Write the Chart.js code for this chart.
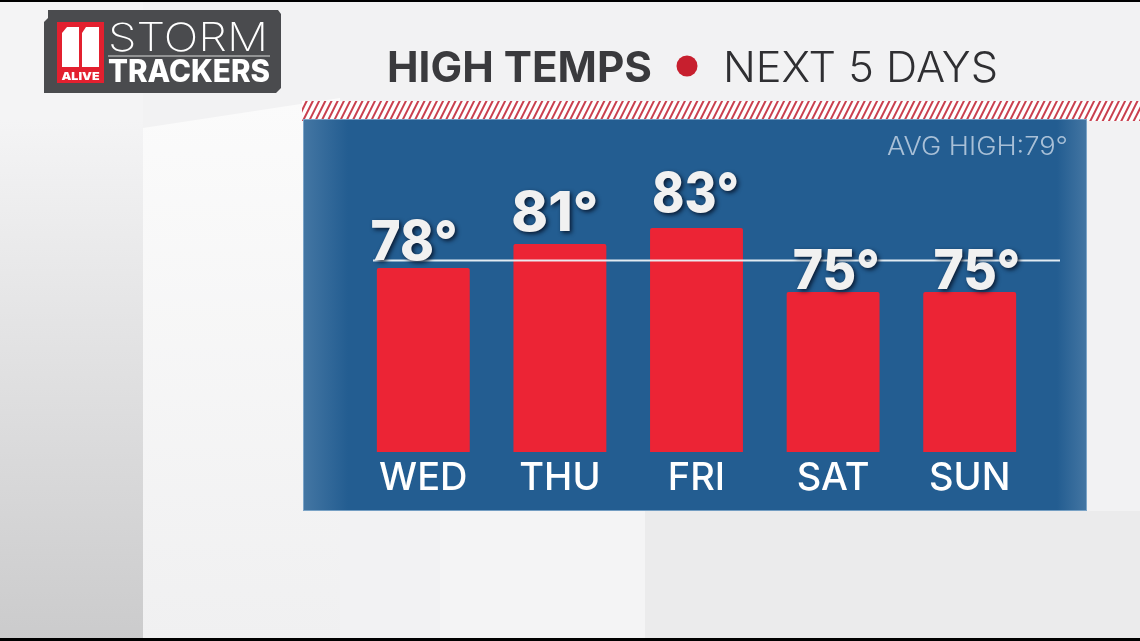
<!DOCTYPE html>
<html>
<head>
<meta charset="utf-8">
<script src="https://cdn.jsdelivr.net/npm/chart.js@4/dist/chart.umd.min.js"></script>
<style>
html,body{margin:0;padding:0;background:#f2f2f3;overflow:hidden;}
canvas{display:block;}
</style>
</head>
<body>
<canvas id="c" width="1140" height="641"></canvas>
<script>
// ---- data ----
const days = ['WED', 'THU', 'FRI', 'SAT', 'SUN'];
const highs = [78, 81, 83, 75, 75];
const avgHigh = 79;
const titleBold = 'HIGH TEMPS';
const titleLight = 'NEXT 5 DAYS';
const avgLabel = 'AVG HIGH:';
const yMin = 55;
const yMax = 96;

const FONT = 'Inter, "Open Sans", "DejaVu Sans", sans-serif';

function fitText(ctx, text, x, y, w, font, align) {
  ctx.save();
  ctx.font = font;
  ctx.textBaseline = 'alphabetic';
  const m = ctx.measureText(text).width;
  const s = w / m;
  let x0 = x;
  if (align === 'center') x0 = x - w / 2;
  else if (align === 'right') x0 = x - w;
  ctx.translate(x0, y);
  ctx.scale(s, 1);
  ctx.textAlign = 'left';
  ctx.fillText(text, 0, 0);
  ctx.restore();
}

const backgroundPlugin = {
  id: 'bg',
  beforeDraw(chart) {
    const ctx = chart.ctx;
    ctx.save();
    ctx.fillStyle = '#f2f2f3';
    ctx.fillRect(0, 0, 1140, 641);
    let g = ctx.createLinearGradient(0, 120, 0, 641);
    g.addColorStop(0, '#f4f4f5');
    g.addColorStop(1, '#cbcbcc');
    ctx.fillStyle = g;
    ctx.fillRect(0, 0, 143, 641);
    g = ctx.createLinearGradient(0, 100, 0, 641);
    g.addColorStop(0, '#fbfbfb');
    g.addColorStop(1, '#f0f0f1');
    ctx.fillStyle = g;
    ctx.beginPath();
    ctx.moveTo(143, 128); ctx.lineTo(340, 98); ctx.lineTo(340, 641); ctx.lineTo(143, 641);
    ctx.closePath(); ctx.fill();
    ctx.fillStyle = '#f4f4f5';
    ctx.fillRect(440, 511, 205, 130);
    ctx.fillStyle = '#ebebec';
    ctx.fillRect(645, 511, 495, 130);
    ctx.fillStyle = '#000';
    ctx.fillRect(0, 0, 1140, 2);
    ctx.fillRect(0, 638, 1140, 3);

    // ---- logo ----
    ctx.fillStyle = '#4a4b4e';
    ctx.beginPath();
    ctx.moveTo(48, 10); ctx.lineTo(278, 10); ctx.lineTo(281, 14); ctx.lineTo(281, 88);
    ctx.lineTo(276, 93); ctx.lineTo(44, 93); ctx.lineTo(44, 22); ctx.lineTo(48, 18);
    ctx.closePath(); ctx.fill();
    ctx.fillStyle = '#e3202f';
    ctx.fillRect(57, 22, 47, 61);
    ctx.fillStyle = '#ffffff';
    ctx.beginPath();
    ctx.moveTo(67, 27); ctx.lineTo(79, 27); ctx.lineTo(79, 67); ctx.lineTo(62, 67); ctx.lineTo(62, 33); ctx.closePath(); ctx.fill();
    ctx.beginPath();
    ctx.moveTo(86, 27); ctx.lineTo(99, 27); ctx.lineTo(99, 67); ctx.lineTo(82, 67); ctx.lineTo(82, 33); ctx.closePath(); ctx.fill();
    ctx.fillStyle = '#ffffff';
    fitText(ctx, 'ALIVE', 80.5, 80, 38, '900 11px ' + FONT, 'center');
    fitText(ctx, 'STORM', 108, 51, 160, '200 39px ' + FONT, 'left');
    ctx.fillStyle = 'rgba(255,255,255,0.8)';
    ctx.fillRect(108, 55.5, 162, 1);
    ctx.fillStyle = '#ffffff';
    fitText(ctx, 'TRACKERS', 108, 82, 162, '800 31px ' + FONT, 'left');

    // ---- title ----
    ctx.fillStyle = '#3a3a3d';
    fitText(ctx, titleBold, 387, 82, 265, '700 42px ' + FONT, 'left');
    ctx.fillStyle = '#c71f2e';
    ctx.beginPath(); ctx.arc(687, 66, 10.5, 0, Math.PI * 2); ctx.fill();
    ctx.fillStyle = '#2f2f32';
    fitText(ctx, titleLight, 723, 82, 275, '300 42px ' + FONT, 'left');

    // ---- hatched strip ----
    ctx.save();
    ctx.beginPath(); ctx.rect(302, 101, 838, 20); ctx.clip();
    ctx.fillStyle = '#ffffff';
    ctx.fillRect(302, 101, 838, 20);
    ctx.strokeStyle = '#c9404f';
    ctx.lineWidth = 2;
    for (let x = 290; x < 1160; x += 6.2) {
      ctx.beginPath(); ctx.moveTo(x, 122); ctx.lineTo(x + 11, 100); ctx.stroke();
    }
    ctx.restore();

    // ---- panel ----
    const px = 303, py = 119, pw = 784, ph = 392;
    ctx.fillStyle = '#235d91';
    ctx.fillRect(px, py, pw, ph);
    g = ctx.createLinearGradient(px, 0, px + 45, 0);
    g.addColorStop(0, 'rgba(90,135,175,0.6)');
    g.addColorStop(1, 'rgba(90,135,175,0)');
    ctx.fillStyle = g;
    ctx.fillRect(px, py, 45, ph);
    g = ctx.createLinearGradient(px + pw - 30, 0, px + pw, 0);
    g.addColorStop(0, 'rgba(90,135,175,0)');
    g.addColorStop(1, 'rgba(90,135,175,0.6)');
    ctx.fillStyle = g;
    ctx.fillRect(px + pw - 30, py, 30, ph);
    ctx.strokeStyle = 'rgba(150,185,215,0.7)';
    ctx.lineWidth = 1;
    ctx.strokeRect(px + 0.5, py + 0.5, pw - 1, ph - 1);

    ctx.fillStyle = '#a9c0d7';
    fitText(ctx, avgLabel + avgHigh + '°', 1068, 155, 181, '300 25px ' + FONT, 'right');
    ctx.restore();
  }
};

const overlayPlugin = {
  id: 'overlay',
  afterDatasetsDraw(chart) {
    const ctx = chart.ctx;
    const ys = chart.scales.y;
    const area = chart.chartArea;
    ctx.save();
    const ay = Math.round(ys.getPixelForValue(avgHigh)) + 0.5;
    ctx.strokeStyle = 'rgba(236,242,248,0.95)';
    ctx.lineWidth = 2;
    ctx.beginPath();
    ctx.moveTo(area.left + 18, ay);
    ctx.lineTo(area.right + 22, ay);
    ctx.stroke();
    const meta = chart.getDatasetMeta(0);
    const center = (area.left + area.right) / 2;
    const basePx = ys.getPixelForValue(yMin);
    meta.data.forEach((bar, i) => {
      const h = basePx - bar.y;
      const gap = Math.max(0, h * 0.19 - 30);
      const x = bar.x + (bar.x - center) * 0.03 - 1;
      const y = bar.y - gap - 3;
      const text = highs[i] + '°';
      ctx.save();
      ctx.shadowColor = 'rgba(5,15,35,0.85)';
      ctx.shadowBlur = 4;
      ctx.shadowOffsetX = 2;
      ctx.shadowOffsetY = 2;
      ctx.fillStyle = '#f1f1f1';
      fitText(ctx, text, x, y, 87, '800 55px ' + FONT, 'center');
      ctx.restore();
    });
    ctx.restore();
  }
};

new Chart(document.getElementById('c'), {
  type: 'bar',
  data: {
    labels: days,
    datasets: [{
      data: highs,
      backgroundColor: '#ec2435',
      borderWidth: 0,
      borderRadius: 2,
      borderSkipped: false,
      barPercentage: 0.68,
      categoryPercentage: 1
    }]
  },
  options: {
    responsive: false,
    devicePixelRatio: 1,
    animation: false,
    layout: { padding: { left: 355, right: 102, top: 124, bottom: 129 } },
    plugins: { legend: { display: false }, tooltip: { enabled: false } },
    scales: {
      x: {
        grid: { display: false, drawTicks: false },
        border: { display: false },
        ticks: {
          color: '#ffffff',
          padding: 4,
          font: { family: FONT, size: 38, weight: '500' }
        },
        afterFit(s) { s.height = 60; }
      },
      y: {
        display: false,
        min: yMin,
        max: yMax
      }
    }
  },
  plugins: [backgroundPlugin, overlayPlugin]
});
</script>
</body>
</html>
